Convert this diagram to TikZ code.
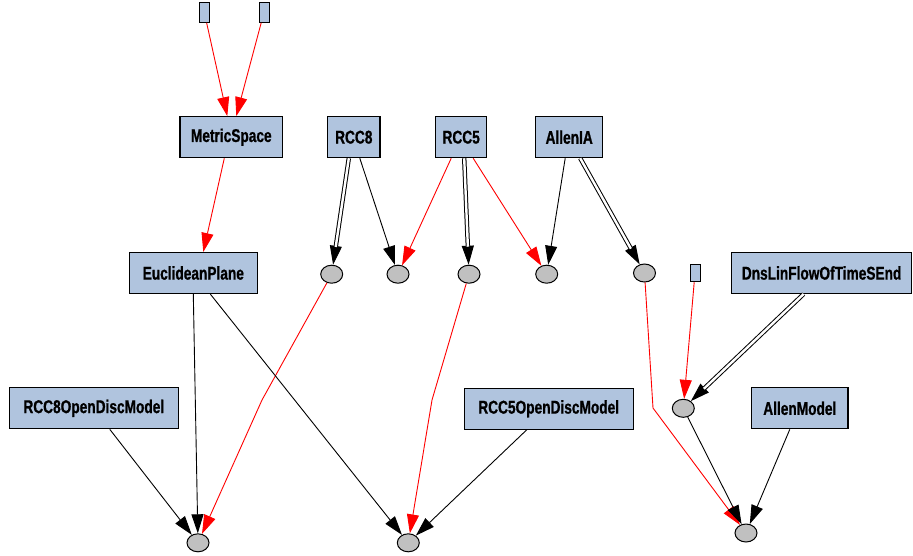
\documentclass[tikz,border=0pt]{standalone}
\usepackage{fontspec}
\newfontfamily\lblfont{Liberation Sans}[FakeStretch=0.74,FakeBold=0.8]
\usetikzlibrary{shapes.geometric,arrows.meta}
\definecolor{boxblue}{HTML}{B0C4DE}
\definecolor{ellgray}{HTML}{C0C0C0}
\tikzset{
  cls/.style={draw=black, line width=1.1pt, fill=boxblue, rectangle, inner sep=0pt,
    minimum height=41pt, font=\lblfont\bfseries\fontsize{18.5}{22}\selectfont},
  tiny/.style={draw=black, line width=1pt, fill=boxblue, rectangle, inner sep=0pt,
    minimum width=10pt, minimum height=20pt},
  anon/.style={draw=black, line width=1pt, fill=ellgray, ellipse, inner sep=0pt,
    minimum width=22pt, minimum height=18pt},
  tipb/.tip={Triangle[length=19pt,width=12pt]},
  arrb/.style={draw=black, line width=0.9pt, arrows={-tipb}},
  arrr/.style={draw=red, line width=0.9pt, arrows={-tipb}},
  dbl/.style={draw=black, line width=1pt, double=white, double distance=2.4pt, shorten >=18pt},
}
\begin{document}
\begin{tikzpicture}[x=1pt,y=-1pt]
\useasboundingbox (0,0) rectangle (913,555);
% top-level boxes
\node[tiny] (r1) at (204.3,12.3) {};
\node[tiny] (r2) at (264,12.3) {};
\node[cls, minimum width=102.7pt] (ms) at (231.3,137.2) {MetricSpace};
\node[cls, minimum width=52.3pt] (rcc8) at (353.8,137.2) {RCC8};
\node[cls, minimum width=51pt] (rcc5) at (461.2,137.2) {RCC5};
\node[cls, minimum width=67pt] (allen) at (569.2,137.2) {AllenIA};
\node[cls, minimum width=128pt] (ep) at (193.3,273) {EuclideanPlane};
\node[cls, minimum width=179.8pt] (dns) at (821.6,273) {DnsLinFlowOfTimeSEnd};
\node[cls, minimum width=169pt] (r8m) at (93.8,408.3) {RCC8OpenDiscModel};
\node[cls, minimum width=169.3pt] (r5m) at (548.7,408.8) {RCC5OpenDiscModel};
\node[cls, minimum width=96.3pt] (am) at (799.8,408.3) {AllenModel};
\node[tiny, minimum height=17.5pt] (r3) at (695,273) {};
% ellipses
\node[anon] (e1) at (331.7,274.2) {};
\node[anon] (e2) at (398,274.2) {};
\node[anon] (e3) at (469,274.2) {};
\node[anon] (e4) at (546.7,274.2) {};
\node[anon] (e5) at (644.5,273) {};
\node[anon] (e6) at (683.3,408.3) {};
\node[anon] (b1) at (198,542.8) {};
\node[anon] (b2) at (408.3,542.8) {};
\node[anon] (b3) at (746,533) {};
% bend points
\coordinate (c1) at (262,400);
\coordinate (c2) at (432,400);
\coordinate (c3) at (653,408);
% edges
\draw[arrr] (r1) -- ([xshift=-4pt]ms.north);
\draw[arrr] (r2) -- ([xshift=5pt]ms.north);
\draw[arrr] ([xshift=-7pt]ms.south) -- ([xshift=10pt]ep.north);
% RCC8
\draw[arrb] ([xshift=-5pt]rcc8.south) -- (e1);
\draw[dbl] ([xshift=-5pt]rcc8.south) -- (e1);
\draw[arrb] ([xshift=6pt]rcc8.south) -- (e2);
% RCC5
\draw[arrr] ([xshift=-10pt]rcc5.south) -- (e2);
\draw[arrb] ([xshift=3pt]rcc5.south) -- (e3);
\draw[dbl] ([xshift=3pt]rcc5.south) -- (e3);
\draw[arrr] ([xshift=12pt]rcc5.south) -- (e4);
% AllenIA
\draw[arrb] ([xshift=-4pt]allen.south) -- (e4);
\draw[arrb] ([xshift=11pt]allen.south) -- (e5);
\draw[dbl] ([xshift=11pt]allen.south) -- (e5);
% lower
\draw[arrr] (e1) -- (c1) -- (b1);
\draw[arrb] (ep.south) -- (b1);
\draw[arrb] ([xshift=17pt]ep.south) -- (b2);
\draw[arrb] ([xshift=16pt]r8m.south) -- (b1);
\draw[arrr] (e3) -- (c2) -- (b2);
\draw[arrb] ([xshift=-22pt]r5m.south) -- (b2);
\draw[arrr] (e5) -- (c3) -- (b3);
\draw[arrr] (r3) -- (e6);
\draw[arrb] ([xshift=-18pt]dns.south) -- (e6);
\draw[dbl] ([xshift=-18pt]dns.south) -- (e6);
\draw[arrb] (e6) -- (b3);
\draw[arrb] ([xshift=-10pt]am.south) -- (b3);
\end{tikzpicture}
\end{document}
